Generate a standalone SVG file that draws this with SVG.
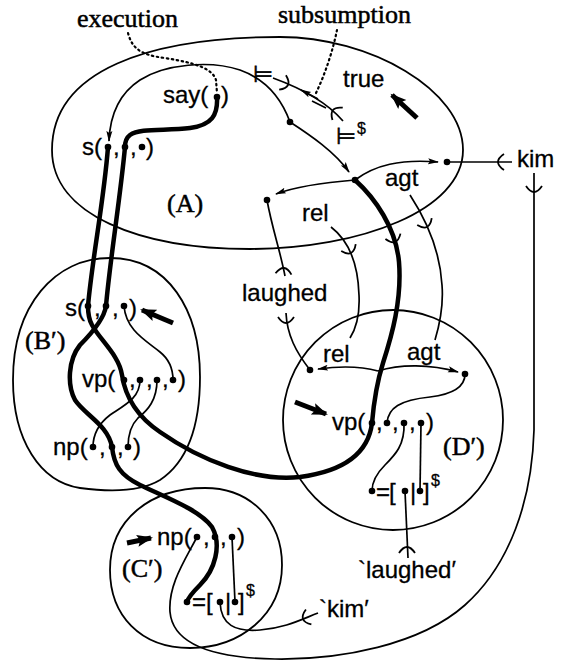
<svg xmlns="http://www.w3.org/2000/svg" width="561" height="660" viewBox="0 0 561 660">
<defs>
<style>
.o{fill:none;stroke:#000;stroke-width:1.8}
.t{fill:none;stroke:#000;stroke-width:1.7}
.k{fill:none;stroke:#000;stroke-width:4.5;stroke-linecap:round;stroke-linejoin:round}
.d{fill:none;stroke:#000;stroke-width:2.2;stroke-dasharray:1.5 3.5;stroke-linecap:round}
.b{fill:none;stroke:#000;stroke-width:5}
.s{font-family:"Liberation Sans",Arial,sans-serif;font-size:24px;fill:#000;stroke:#000;stroke-width:0.3}
.r{font-family:"Liberation Serif","Times New Roman",serif;font-size:26px;fill:#000;stroke:#000;stroke-width:0.5}
.m{font-family:"DejaVu Sans",sans-serif;font-size:23px;fill:#000;stroke:#000;stroke-width:0.6}
.sup{font-family:"Liberation Sans",Arial,sans-serif;font-size:16px;fill:#000;stroke:#000;stroke-width:0.3}
</style>
<marker id="ah" markerUnits="userSpaceOnUse" markerWidth="12" markerHeight="8" refX="10" refY="4" orient="auto"><path d="M0,1 L11,4 L0,7 L2,4 Z" fill="#000"/></marker>
<marker id="bh" markerUnits="userSpaceOnUse" markerWidth="18" markerHeight="14" refX="14" refY="7" orient="auto"><path d="M0,1 L16,7 L0,13 L3,7 Z" fill="#000"/></marker>
<path id="tk" d="M-8,6 Q0,-6 8,6" fill="none" stroke="#000" stroke-width="1.8"/>
<circle id="dt" r="3.3" fill="#000"/>
</defs>
<rect width="561" height="660" fill="#fff"/>

<g id="connectors">
  <!-- dotted annotation lines -->
  <path class="d" d="M128,33 C132,48 140,55 165,58 C195,63 212,68 216,80 L217,93"/>
  <path class="d" d="M337,30 C333,50 325,75 315,95"/>
  <!-- arcs from dot in A -->
  <path class="t" marker-end="url(#ah)" d="M290,122 C282,100 268,80 240,70 C210,60 165,64 140,80 C120,93 110,115 109,141"/>
  <path class="t" marker-end="url(#ah)" d="M290,122 C310,135 335,152 349,172"/>
  <path class="t" marker-end="url(#ah)" d="M355,180 C330,182 300,185 276,194"/>
  <path class="t" marker-end="url(#ah)" d="M355,180 C375,165 400,159 438,162"/>
  <!-- subsumption line -->
  <path class="t" d="M273,78 C295,86 325,100 343,121"/>
  <path class="t" marker-end="url(#ah)" d="M318,99 L301,90"/>
  <path class="t" d="M312,101 L326,108"/>
  <use href="#tk" transform="translate(288,85) rotate(115)"/>
  <use href="#tk" transform="translate(333,110) rotate(-50)"/>
  <!-- laughed -->
  <path class="t" d="M267,200 C272,228 280,250 285,276"/>
  <use href="#tk" transform="translate(284,268) rotate(5)"/>
  <path class="t" d="M286,313 C287,335 296,352 310,370"/>
  <use href="#tk" transform="translate(286,323) rotate(180)"/>
  <!-- rel / agt links -->
  <path class="t" d="M331,227 C348,240 358,262 359,295 C360,315 355,330 350,338"/>
  <use href="#tk" transform="translate(351,253) rotate(155)"/>
  <path class="t" d="M410,195 C425,218 440,250 442,285 C444,310 438,330 435,340"/>
  <use href="#tk" transform="translate(427,227) rotate(155)"/>
  <!-- kim -->
  <path class="t" d="M447,162 L512,162"/>
  <use href="#tk" transform="translate(498,162) rotate(-90)"/>
  <path class="t" d="M197,537 C185,560 168,585 170,612 C173,645 215,658 275,659 C340,660 420,645 465,605 C510,565 532,500 534,430 L534,173"/>
  <use href="#tk" transform="translate(534,192) rotate(180)"/>
  <!-- thick execution threads -->
  <path class="k" d="M355,180 C375,198 396,228 399,262 C402,300 392,335 383,363 C377,382 374,400 372,423 C369,448 352,470 300,477 C255,482 200,460 160,432 C135,415 125,395 122,375 C119,355 100,340 92,325 C88,318 88,312 88,306 C92,260 104,200 108,147"/>
  <use href="#tk" transform="translate(395,242) rotate(160)"/>
  <path class="k" d="M217,97 C218,115 212,125 190,128 C165,131 140,128 130,135 C126,138 125,143 125,147 C120,200 110,260 106,306 C104,320 90,335 80,345 C68,360 67,385 75,400 C85,415 108,425 112,447 C114,465 120,475 140,485 C165,497 200,510 212,527 C222,545 215,570 200,585 C192,593 188,598 187,602"/>
  <!-- B' -->
  <path class="t" d="M124,306 C126,330 145,340 160,352 C170,360 173,370 173,380"/>
  <path class="t" d="M140,380 C140,398 125,405 110,415 C97,425 93,435 93,447"/>
  <path class="t" d="M157,380 C157,400 148,410 138,418 C130,426 128,437 128,447"/>
  <!-- C' -->
  <path class="t" d="M232,537 L235,602"/>
  <path class="t" d="M220,602 C221,625 235,632 260,630 C285,628 300,620 318,613"/>
  <use href="#tk" transform="translate(303,619) rotate(-110)"/>
  <!-- D' -->
  <path class="t" marker-end="url(#ah)" d="M378,371 C360,366 340,366 318,369"/>
  <path class="t" marker-end="url(#ah)" d="M378,371 C400,364 430,364 458,372"/>
  <path class="t" d="M387,423 C388,408 400,400 430,397 C455,394 465,385 465,374"/>
  <path class="t" d="M404,423 C405,445 395,455 385,465 C376,474 372,482 372,491"/>
  <path class="t" d="M421,423 L420,491"/>
  <path class="t" d="M405,491 L408,558"/>
  <use href="#tk" transform="translate(407,547)"/>
  <!-- bold arrows -->
  <path class="b" marker-end="url(#bh)" d="M417,118 L392,95"/>
  <path class="b" marker-end="url(#bh)" d="M173,323 L142,310"/>
  <path class="b" marker-end="url(#bh)" d="M127,543 L151,538"/>
  <path class="b" marker-end="url(#bh)" d="M295,402 L326,414"/>
</g>

<g id="label-execution"><text class="r" x="77" y="27">execution</text></g>
<g id="label-subsumption"><text class="r" x="278" y="23">subsumption</text></g>

<g id="region-A">
  <path class="o" d="M52,150 C52,70 150,37 280,37 C370,37 463,90 463,150 C463,210 360,249 250,249 C140,249 52,215 52,150 Z"/>
  <text class="s" x="163" y="103">say(</text><text class="s" x="221" y="103">)</text>
  <use href="#dt" x="217" y="97"/>
  <text class="s" x="82" y="155">s(</text>
  <use href="#dt" x="108" y="147"/><text class="s" x="113" y="155">,</text>
  <use href="#dt" x="125" y="147"/><text class="s" x="130" y="155">,</text>
  <use href="#dt" x="142" y="147"/><text class="s" x="146" y="155">)</text>
  <text class="m" x="253" y="82">⊨</text>
  <text class="m" x="336" y="144">⊨</text><text class="sup" x="357" y="134">$</text>
  <text class="s" x="343" y="87">true</text>
  <use href="#dt" x="290" y="122"/>
  <use href="#dt" x="355" y="180"/>
  <use href="#dt" x="267" y="200"/>
  <use href="#dt" x="447" y="162"/>
  <text class="s" x="302" y="221">rel</text>
  <text class="s" x="385" y="186">agt</text>
  <text class="r" x="167" y="212">(A)</text>
</g>

<g id="node-kim"><text class="s" x="517" y="167">kim</text></g>
<g id="node-laughed"><text class="s" x="242" y="301">laughed</text></g>

<g id="region-B">
  <path class="o" d="M13,380 C13,305 55,258 110,258 C168,258 200,310 200,377 C200,420 190,460 160,480 C140,492 110,492 80,488 C40,482 13,440 13,380 Z"/>
  <text class="s" x="65" y="316">s(</text>
  <use href="#dt" x="88" y="306"/><text class="s" x="94" y="316">,</text>
  <use href="#dt" x="106" y="306"/><text class="s" x="112" y="316">,</text>
  <use href="#dt" x="124" y="306"/><text class="s" x="129" y="316">)</text>
  <text class="r" x="25" y="349">(B′)</text>
  <text class="s" x="82" y="387">vp(</text>
  <use href="#dt" x="124" y="380"/><text class="s" x="129" y="387">,</text>
  <use href="#dt" x="140" y="380"/><text class="s" x="146" y="387">,</text>
  <use href="#dt" x="157" y="380"/><text class="s" x="162" y="387">,</text>
  <use href="#dt" x="173" y="380"/><text class="s" x="178" y="387">)</text>
  <text class="s" x="53" y="455">np(</text>
  <use href="#dt" x="93" y="447"/><text class="s" x="99" y="455">,</text>
  <use href="#dt" x="112" y="447"/><text class="s" x="117" y="455">,</text>
  <use href="#dt" x="128" y="447"/><text class="s" x="133" y="455">)</text>
</g>

<g id="region-C">
  <path class="o" d="M205,488 C250,488 282,520 282,565 C282,615 240,648 190,648 C140,648 110,615 110,570 C110,520 150,488 205,488 Z"/>
  <text class="s" x="157" y="545">np(</text>
  <use href="#dt" x="197" y="537"/><text class="s" x="203" y="545">,</text>
  <use href="#dt" x="215" y="537"/><text class="s" x="220" y="545">,</text>
  <use href="#dt" x="232" y="537"/><text class="s" x="237" y="545">)</text>
  <text class="r" x="122" y="577">(C′)</text>
  <use href="#dt" x="187" y="602"/>
  <text class="s" x="192" y="610">=</text><text class="s" x="206" y="610">[</text>
  <use href="#dt" x="220" y="602"/>
  <text class="s" x="225" y="610">|</text>
  <use href="#dt" x="235" y="602"/>
  <text class="s" x="238" y="610">]</text><text class="sup" x="246" y="596">$</text>
</g>
<g id="node-kim-str"><text class="s" x="319" y="617">`kim′</text></g>

<g id="region-D">
  <circle class="o" cx="393" cy="420" r="110"/>
  <use href="#dt" x="310" y="370"/>
  <use href="#dt" x="465" y="374"/>
  <text class="s" x="323" y="362">rel</text>
  <text class="s" x="407" y="360">agt</text>
  <text class="s" x="332" y="430">vp(</text>
  <use href="#dt" x="372" y="423"/><text class="s" x="376" y="430">,</text>
  <use href="#dt" x="387" y="423"/><text class="s" x="392" y="430">,</text>
  <use href="#dt" x="404" y="423"/><text class="s" x="409" y="430">,</text>
  <use href="#dt" x="421" y="423"/><text class="s" x="426" y="430">)</text>
  <text class="r" x="443" y="455">(D′)</text>
  <use href="#dt" x="372" y="491"/>
  <text class="s" x="376" y="500">=</text><text class="s" x="389" y="500">[</text>
  <use href="#dt" x="405" y="491"/>
  <text class="s" x="410" y="500">|</text>
  <use href="#dt" x="420" y="491"/>
  <text class="s" x="423" y="500">]</text><text class="sup" x="431" y="486">$</text>
</g>
<g id="node-laughed-str"><text class="s" x="358" y="578">`laughed′</text></g>
</svg>
